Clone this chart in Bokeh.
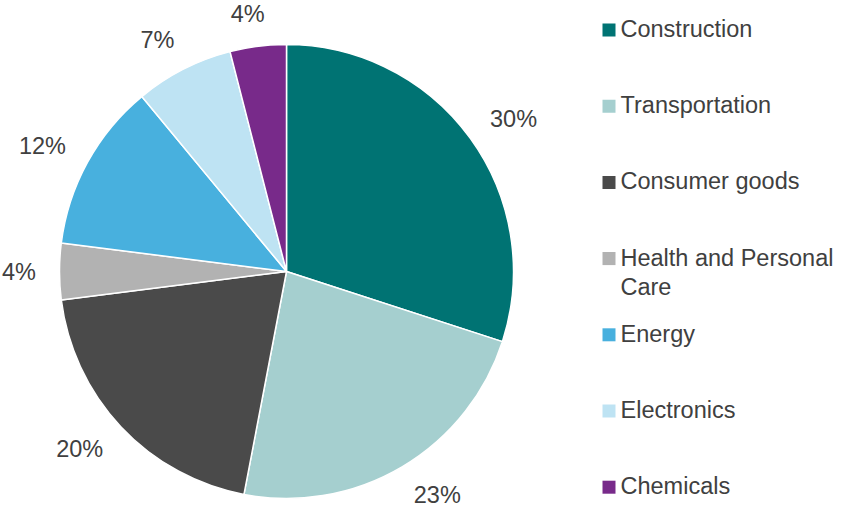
import math
from bokeh.plotting import figure
from bokeh.models import Range1d, ColumnDataSource
from bokeh.core.properties import value
from bokeh.embed import file_html
from bokeh.resources import INLINE

categories = ["Construction", "Transportation", "Consumer goods", "Health and Personal\nCare",
              "Energy", "Electronics", "Chemicals"]
shares = [30, 23, 20, 4, 12, 7, 4]
labels = ["30%", "23%", "20%", "4%", "12%", "7%", "4%"]
colors = ["#007373", "#A5CFCF", "#4A4A4A", "#B2B2B2", "#48B0DE", "#BEE3F3", "#782A8A"]

W, H = 846, 517
FONT = "Liberation Sans"
TEXT_COLOR = "#404040"

p = figure(width=W, height=H, output_backend="svg", toolbar_location=None,
           x_range=Range1d(0, W), y_range=Range1d(0, H), min_border=0)
p.axis.visible = False
p.grid.visible = False
p.outline_line_color = None
p.background_fill_color = "white"

cx, cy, R = 286, H - 271, 227
total = float(sum(shares))
starts, ends, mids = [], [], []
cum = 0.0
for s in shares:
    a0 = math.pi / 2 - 2 * math.pi * cum / total
    cum += s
    a1 = math.pi / 2 - 2 * math.pi * cum / total
    starts.append(a0)
    ends.append(a1)
    mids.append((a0 + a1) / 2)

src = ColumnDataSource(dict(start=starts, end=ends, color=colors))
p.wedge(x=cx, y=cy, radius=R, start_angle="start", end_angle="end", direction="clock",
        fill_color="color", line_color="white", line_width=1.5, source=src)

# outside-end labels: anchor just outside the rim, box pushed outward
LFS = 23.5
r0 = R + 25
lx, ly = [], []
for m, t in zip(mids, labels):
    half_w = len(t) * 0.33 * LFS
    lx.append(cx + math.cos(m) * r0 + half_w * math.tanh(4 * math.cos(m)))
    ly.append(cy + math.sin(m) * (r0 + 8))
p.text(x=lx, y=ly, text=labels, text_font=value(FONT), text_font_size=f"{LFS}px",
       text_color=TEXT_COLOR, text_align="center", text_baseline="middle")

# legend
sq_x, tx = 608.5, 620
row0, step, line_h = 29.5, 76.2, 29
sx, sy, tlx, tly, ttx = [], [], [], [], []
for i, c in enumerate(categories):
    yc = row0 + i * step
    sx.append(sq_x)
    sy.append(H - yc)
    for j, line in enumerate(c.split("\n")):
        tlx.append(tx)
        tly.append(H - (yc + j * line_h - 1))
        ttx.append(line)
p.rect(x=sx, y=sy, width=13, height=13, fill_color=colors, line_color=None)
p.text(x=tlx, y=tly, text=ttx, text_font=value(FONT), text_font_size="23.5px",
       text_color=TEXT_COLOR, text_align="left", text_baseline="middle")

open("out.html", "w").write(file_html(p, INLINE))
